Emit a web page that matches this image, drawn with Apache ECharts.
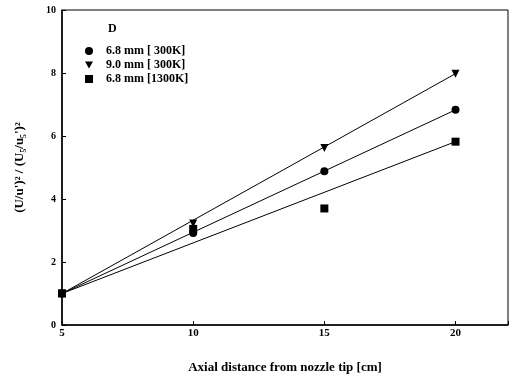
<!DOCTYPE html>
<html>
<head>
<meta charset="utf-8">
<script src="https://cdn.jsdelivr.net/npm/echarts@6/dist/echarts.min.js"></script>
<style>html,body{margin:0;padding:0;background:#fff}#c{width:513px;height:380px}</style>
</head>
<body>
<div id="c"></div>
<script>
// Data
const xValues = [5, 10, 15, 20];
const seriesNames = ['6.8 mm [ 300K]', '9.0 mm [ 300K]', '6.8 mm [1300K]'];
const circle300 = [1.0, 2.92, 4.88, 6.83];
const tri300 = [1.0, 3.22, 5.62, 7.98];
const square1300 = [1.0, 3.05, 3.7, 5.82];
// fitted straight lines (start and end points)
const fitX = [5, 20];
const fitCircle = [1.0, 6.83];
const fitTri = [1.0, 7.98];
const fitSquare = [1.0, 5.82];
const xTicks = [5, 10, 15, 20];
const yTicks = [0, 2, 4, 6, 8, 10];

const font = 'Liberation Serif';
const triPath = 'path://M0,0L10,0L5,9Z';
const pts = (ys) => xValues.map((x, i) => [x, ys[i]]);
const fit = (ys) => fitX.map((x, i) => [x, ys[i]]);

const chart = echarts.init(document.getElementById('c'), null, {renderer: 'canvas'});
const lineStyle = {color: '#000', width: 1};
const mk = {color: '#000', opacity: 1};
chart.setOption({
  animation: false,
  backgroundColor: '#fff',
  grid: {left: 62, right: 5, top: 10, bottom: 55, show: true, borderColor: '#000', borderWidth: 1},
  xAxis: {
    type: 'value', min: 5, max: 22, interval: 5,
    name: 'Axial distance from nozzle tip [cm]', nameLocation: 'middle', nameGap: 36,
    nameTextStyle: {fontFamily: font, fontWeight: 'bold', fontSize: 13, color: '#000'},
    axisLine: {lineStyle: {color: '#000', width: 1.5}},
    axisTick: {inside: true, length: 4, lineStyle: {color: '#000'}},
    axisLabel: {fontFamily: font, fontWeight: 'bold', fontSize: 11, color: '#000', margin: 3,
      formatter: v => xTicks.includes(v) ? String(v) : ''},
    splitLine: {show: false}
  },
  yAxis: {
    type: 'value', min: 0, max: 10, interval: 2,
    name: "(U/u')² / (U₅/u₅')²", nameLocation: 'middle', nameGap: 36, nameRotate: 90,
    nameTextStyle: {fontFamily: font, fontWeight: 'bold', fontSize: 13, color: '#000'},
    axisLine: {lineStyle: {color: '#000', width: 1.5}},
    axisTick: {inside: true, length: 4, lineStyle: {color: '#000'}},
    axisLabel: {fontFamily: font, fontWeight: 'bold', fontSize: 10, color: '#000', margin: 6,
      formatter: v => yTicks.includes(v) ? String(v) : ''},
    splitLine: {show: false}
  },
  legend: {
    orient: 'vertical', left: 80, top: 40, itemGap: 2, itemWidth: 8, itemHeight: 8,
    data: seriesNames,
    textStyle: {fontFamily: font, fontWeight: 'bold', fontSize: 12, color: '#000', padding: [0, 0, 0, 8]}
  },
  graphic: [{type: 'text', left: 108, top: 23, style: {text: 'D', font: 'bold 12px "Liberation Serif"', fill: '#000'}}],
  series: [
    {name: 'fitC', type: 'line', data: fit(fitCircle), showSymbol: false, silent: true, lineStyle, z: 1},
    {name: 'fitT', type: 'line', data: fit(fitTri), showSymbol: false, silent: true, lineStyle, z: 1},
    {name: 'fitS', type: 'line', data: fit(fitSquare), showSymbol: false, silent: true, lineStyle, z: 1},
    {name: seriesNames[0], type: 'scatter', data: pts(circle300), symbol: 'circle', symbolSize: 8,
      itemStyle: mk, z: 3},
    {name: seriesNames[1], type: 'scatter', data: pts(tri300), symbol: triPath, symbolSize: [8, 8],
      itemStyle: mk, z: 3},
    {name: seriesNames[2], type: 'scatter', data: pts(square1300), symbol: 'rect', symbolSize: 8,
      itemStyle: mk, z: 4}
  ]
});
</script>
</body>
</html>
